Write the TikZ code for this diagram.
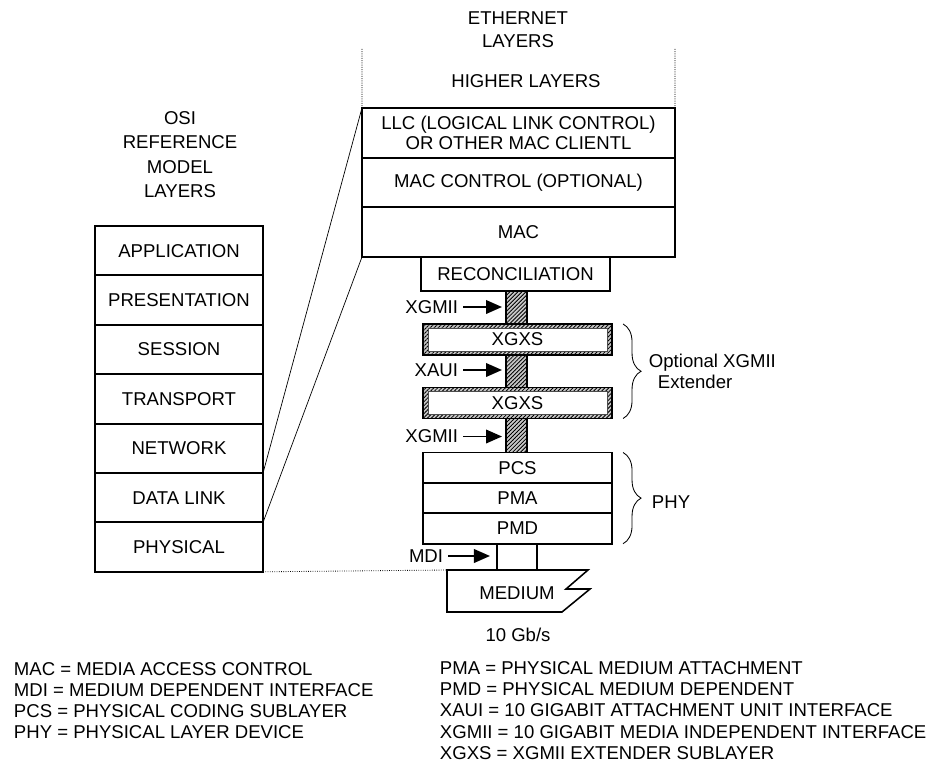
\documentclass[tikz,border=0pt]{standalone}
\usepackage{fontspec}
\setmainfont{Liberation Sans}
\usetikzlibrary{arrows.meta,decorations.pathreplacing,patterns.meta}

\begin{document}
\begin{tikzpicture}[x=0.025cm,y=-0.025cm,
  every node/.style={font=\fontsize{13.2}{15}\selectfont},
  box/.style={draw,line width=1.3pt,inner sep=0pt,outer sep=0pt,align=center},
  osilayer/.style={box,minimum width=4.2cm,minimum height=1.235cm},
  ethlayer/.style={box,minimum width=7.825cm,minimum height=1.24cm},
  phylayer/.style={box,minimum width=4.725cm,minimum height=0.76cm},
  hatch/.style={draw,line width=1.1pt,fill=gray!45,
    postaction={pattern={Lines[angle=45,distance=2pt,line width=0.6pt]}}},
  ptr/.style={-{Triangle[length=0.4cm,width=0.34cm]},line width=1.3pt},
  brc/.style={decorate,decoration={brace,amplitude=0.45cm},line width=0.6pt},
  link/.style={line width=0.5pt},
  dots/.style={densely dotted,line width=0.6pt}]
\useasboundingbox (0,0) rectangle (931,762);

\node[align=center,font=\fontsize{13.2}{17.3}\selectfont] (osititle) at (180,154.5) {OSI\\REFERENCE\\MODEL\\LAYERS};
\node[align=center,font=\fontsize{13.2}{16.5}\selectfont] (ethtitle) at (518,29.5) {ETHERNET\\LAYERS};
\node (higher) at (526,81) {HIGHER LAYERS};

\foreach \n/\t [count=\i from 0] in {app/APPLICATION,pres/PRESENTATION,sess/SESSION,
    trans/TRANSPORT,net/NETWORK,dl/DATA LINK,phys/PHYSICAL}
  \node[osilayer] (\n) at (179,{250.7+49.4*\i}) {\t};

\node[ethlayer,font=\fontsize{13.2}{14.6}\selectfont] (llc) at (518.5,132.8) {LLC (LOGICAL LINK CONTROL)\\OR OTHER MAC CLIENTL};
\node[ethlayer] (macctl) at (518.5,182.5) {MAC CONTROL (OPTIONAL)};
\node[ethlayer] (mac) at (518.5,232.2) {MAC};
\node[box,minimum width=4.725cm,minimum height=0.85cm] (recon) at (515.5,274) {RECONCILIATION};

\foreach \n/\y in {xgxsA/339.5,xgxsB/403}{
  \node[hatch,minimum width=4.725cm,minimum height=0.775cm,outer sep=0pt] (\n) at (517.5,\y) {};
  \node[fill=white,draw=black!70,line width=0.4pt,minimum width=4.475cm,minimum height=0.575cm] (\n in) at (\n) {XGXS};
}

\foreach \n/\t [count=\i from 0] in {pcs/PCS,pma/PMA,pmd/PMD}
  \node[phylayer] (\n) at (517.5,{467.7+30.4*\i}) {\t};

\node[box,minimum width=1cm,minimum height=0.66cm] (mdibox) at (517,557) {};
\coordinate (medtl) at (447,570);
\draw[line width=1.1pt] (medtl) -- (588,570) -- (566,589) -- (590,589) -- (562,612) -- (447,612) -- cycle;
\node (medium) at (517,593) {MEDIUM};
\node (rate) at (518,635) {10 Gb/s};

\coordinate (barL) at (506,0);
\coordinate (barR) at (527,0);
\draw[hatch] (barL |- recon.south) rectangle (barR |- xgxsA.north);
\draw[hatch] (barL |- xgxsA.south) rectangle (barR |- xgxsB.north);
\draw[hatch] (barL |- xgxsB.south) rectangle (barR |- pcs.north);

\node[anchor=east] (xgmiiA) at (463,307) {XGMII};
\node[anchor=east] (xaui) at (463,370) {XAUI};
\node[anchor=east] (xgmiiB) at (463,436.5) {XGMII};
\node[anchor=east] (mdi) at (448,556) {MDI};
\foreach \n in {xgmiiA,xaui,xgmiiB}
  \draw[ptr,shorten >=0.1cm] (\n.east) -- (\n.east -| barL);
\draw[ptr,shorten >=0.175cm] (mdi.east) -- (mdi.east -| mdibox.west);

\draw[brc] ([xshift=0.275cm]xgxsA.north east) -- ([xshift=0.275cm]xgxsB.south east);
\draw[brc] ([xshift=0.275cm]pcs.north east) -- ([xshift=0.275cm]pmd.south east);
\node[anchor=west] (optA) at (644,363) {Optional XGMII};
\node[anchor=west] (optB) at (653,382) {Extender};
\node[anchor=west] (phy) at (647,502) {PHY};

\draw[link] (net.south east) -- (llc.north west);
\draw[link] (dl.south east) -- (mac.south west);
\draw[dots] (phys.south east) -- (medtl);
\coordinate (dotL) at (362,49);
\coordinate (dotR) at (675,49);
\draw[dots] (dotL) -- (llc.north west);
\draw[dots] (dotR) -- (llc.north east);

\foreach \t [count=\i from 0] in {MAC = MEDIA ACCESS CONTROL,MDI = MEDIUM DEPENDENT INTERFACE,
    PCS = PHYSICAL CODING SUBLAYER,PHY = PHYSICAL LAYER DEVICE}
  \node[anchor=west] (legL\i) at (9,{669+21*\i}) {\t};
\foreach \t [count=\i from 0] in {PMA = PHYSICAL MEDIUM ATTACHMENT,PMD = PHYSICAL MEDIUM DEPENDENT,
    XAUI = 10 GIGABIT ATTACHMENT UNIT INTERFACE,XGMII = 10 GIGABIT MEDIA INDEPENDENT INTERFACE,
    XGXS = XGMII EXTENDER SUBLAYER}
  \node[anchor=west] (legR\i) at (435,{668+21.2*\i}) {\t};
\end{tikzpicture}
\end{document}
